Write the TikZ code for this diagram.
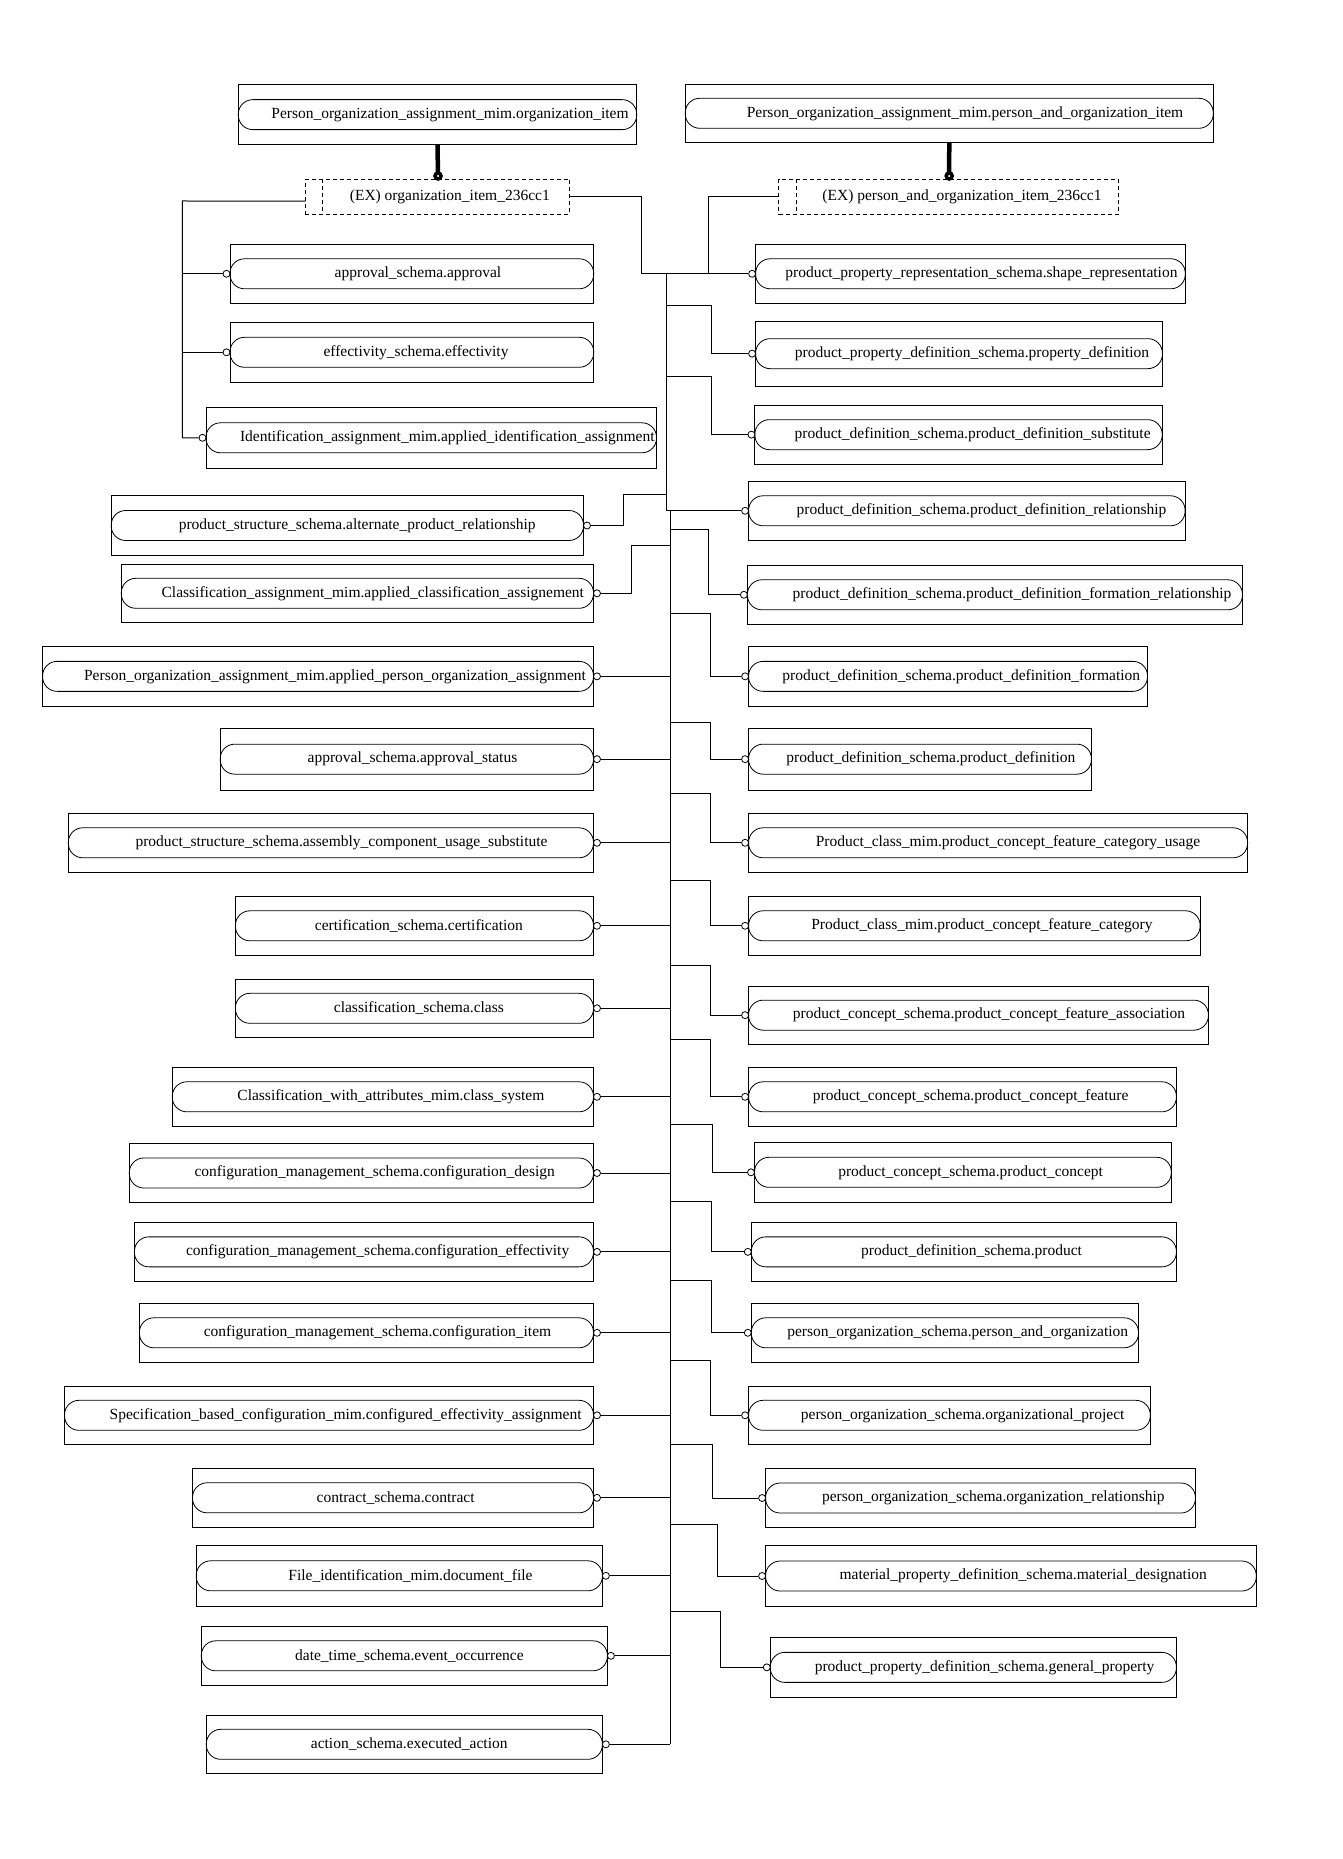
\documentclass[tikz,border=0pt]{standalone}
\usepackage{fontspec}
\setmainfont{Liberation Serif}
\usetikzlibrary{calc}
\tikzset{
  outerbox/.style={draw, rectangle, inner sep=0pt, outer sep=0pt, line width=1pt},
  innerbox/.style={draw, rectangle, rounded corners=14.5pt, minimum height=30pt, inner sep=0pt, outer sep=0pt, line width=0.8pt},
  exbox/.style={draw, rectangle, inner sep=0pt, outer sep=0pt, line width=0.9pt, dash pattern=on 4pt off 3pt},
  exdiv/.style={line width=0.9pt, dash pattern=on 4pt off 3pt},
  lbl/.style={inner sep=0pt, font=\fontsize{15.5}{18}\selectfont},
  oc/.style={draw, circle, minimum size=7pt, inner sep=0pt, fill=white, line width=0.8pt},
  bigdot/.style={draw, circle, minimum size=6pt, inner sep=0pt, fill=white, line width=3.5pt},
  link/.style={line width=1pt},
  thicklink/.style={line width=4.5pt}
}
\newcommand{\ebox}[7]{%
  \node[outerbox, minimum width={(#4-#2)*1pt}, minimum height={(#5-#3)*1pt}] (#1) at ({(#2+#4)/2},{(#3+#5)/2}) {};
  \node[innerbox, minimum width={(#4-#2)*1pt}] (#1-in) at (#1.center) {};
  \node[lbl] (#1-tx) at (#6,{(#3+#5)/2}) {#7};
}
\begin{document}
\begin{tikzpicture}[x=1pt,y=-1pt]
\useasboundingbox (0,0) rectangle (1342,1859);
\fill[white] (0,0) rectangle (1342,1859);

% top select boxes
\ebox{T1}{238.3}{85}{636.7}{144.3}{450}{Person\_organization\_assignment\_mim.organization\_item}
\ebox{T2}{685.2}{84.3}{1213.3}{142.3}{965}{Person\_organization\_assignment\_mim.person\_and\_organization\_item}

% extension (dashed) boxes
\node[exbox, minimum width=264pt, minimum height=35.3pt] (D1) at (437.3,196.65) {};
\draw[exdiv] ([xshift=17pt]D1.north west) -- ([xshift=17pt]D1.south west);
\node[lbl] (D1-tx) at (449.8,196.65) {(EX) organization\_item\_236cc1};
\node[exbox, minimum width=339.5pt, minimum height=35.3pt] (D2) at (948.65,196.65) {};
\draw[exdiv] ([xshift=17.6pt]D2.north west) -- ([xshift=17.6pt]D2.south west);
\node[lbl] (D2-tx) at (962,196.65) {(EX) person\_and\_organization\_item\_236cc1};

\draw[thicklink] (T1.south) -- (438,176);
\draw[thicklink] (T2.south) -- (949.2,176);
\node[bigdot] (T1d) at (438,176) {};
\node[bigdot] (T2d) at (949.2,176) {};

% left column
\ebox{L1}{230}{244.3}{593.7}{303.3}{418}{approval\_schema.approval}
\ebox{L2}{230}{322.3}{593.7}{382.3}{416}{effectivity\_schema.effectivity}
\ebox{L3}{206}{407.3}{656.5}{468.3}{447.3}{Identification\_assignment\_mim.applied\_identification\_assignment}
\ebox{L4}{111.2}{495.7}{583.5}{555.3}{357.2}{product\_structure\_schema.alternate\_product\_relationship}
\ebox{L5}{121.3}{564.3}{593.5}{622.3}{372.8}{Classification\_assignment\_mim.applied\_classification\_assignement}
\ebox{L6}{42.6}{646.7}{593.5}{706}{335}{Person\_organization\_assignment\_mim.applied\_person\_organization\_assignment}
\ebox{L7}{220.2}{728.3}{593.5}{790}{412.5}{approval\_schema.approval\_status}
\ebox{L8}{68.3}{813.3}{593.5}{872.3}{341.5}{product\_structure\_schema.assembly\_component\_usage\_substitute}
\ebox{L9}{235.4}{896.3}{593.5}{955.3}{418.9}{certification\_schema.certification}
\ebox{L10}{235.4}{979.3}{593.5}{1037.3}{418.9}{classification\_schema.class}
\ebox{L11}{172.3}{1067.3}{593.5}{1126.3}{390.9}{Classification\_with\_attributes\_mim.class\_system}
\ebox{L12}{129.3}{1143.7}{593.5}{1202.3}{374.7}{configuration\_management\_schema.configuration\_design}
\ebox{L13}{134.4}{1222.7}{593.5}{1281}{377.6}{configuration\_management\_schema.configuration\_effectivity}
\ebox{L14}{139.4}{1303.3}{593.5}{1362.3}{377.5}{configuration\_management\_schema.configuration\_item}
\ebox{L15}{64.5}{1386.3}{593.5}{1444.3}{345.6}{Specification\_based\_configuration\_mim.configured\_effectivity\_assignment}
\ebox{L16}{192.5}{1468.3}{593.5}{1527.3}{395.6}{contract\_schema.contract}
\ebox{L17}{196.2}{1545.3}{602.4}{1606.3}{410.5}{File\_identification\_mim.document\_file}
\ebox{L18}{201.3}{1626.3}{607.4}{1685.3}{409.4}{date\_time\_schema.event\_occurrence}
\ebox{L19}{206.3}{1715.3}{602.4}{1773.3}{409.2}{action\_schema.executed\_action}

% right column
\ebox{R1}{755.6}{244.3}{1185.3}{303.3}{981.4}{product\_property\_representation\_schema.shape\_representation}
\ebox{R2}{755.6}{321.3}{1162.4}{386}{972}{product\_property\_definition\_schema.property\_definition}
\ebox{R3}{754.9}{405}{1162.2}{464.3}{972.6}{product\_definition\_schema.product\_definition\_substitute}
\ebox{R4}{748.6}{481.3}{1185.1}{540.3}{981.5}{product\_definition\_schema.product\_definition\_relationship}
\ebox{R5}{747.4}{565.3}{1242.4}{624.3}{1012}{product\_definition\_schema.product\_definition\_formation\_relationship}
\ebox{R6}{748.6}{646.7}{1147.5}{706}{961.3}{product\_definition\_schema.product\_definition\_formation}
\ebox{R7}{748.6}{728.3}{1091.4}{790}{930.9}{product\_definition\_schema.product\_definition}
\ebox{R8}{748.6}{813.3}{1247.6}{872.3}{1008}{Product\_class\_mim.product\_concept\_feature\_category\_usage}
\ebox{R9}{748.6}{896.3}{1200.1}{955.3}{981.9}{Product\_class\_mim.product\_concept\_feature\_category}
\ebox{R10}{748.6}{986.3}{1208.4}{1044}{989}{product\_concept\_schema.product\_concept\_feature\_association}
\ebox{R11}{748.6}{1067.3}{1176.4}{1126.3}{970.6}{product\_concept\_schema.product\_concept\_feature}
\ebox{R12}{754.5}{1142.3}{1171.3}{1202.3}{970.6}{product\_concept\_schema.product\_concept}
\ebox{R13}{751.3}{1222.7}{1176.4}{1281}{971.6}{product\_definition\_schema.product}
\ebox{R14}{751.3}{1303.3}{1138.5}{1362.3}{957.7}{person\_organization\_schema.person\_and\_organization}
\ebox{R15}{748.6}{1386.3}{1150.3}{1444.3}{962.7}{person\_organization\_schema.organizational\_project}
\ebox{R16}{765.6}{1468.7}{1195.4}{1527.3}{993.3}{person\_organization\_schema.organization\_relationship}
\ebox{R17}{765.6}{1545.7}{1256.3}{1606.3}{1023.2}{material\_property\_definition\_schema.material\_designation}
\ebox{R18}{770.3}{1637.7}{1176.4}{1697}{984.6}{product\_property\_definition\_schema.general\_property}

% connector circles
\foreach \n in {L1,L2,L3} {\node[oc] (\n-c) at ([xshift=-3.5pt]\n.west) {};}
\foreach \n in {L4,L5,L6,L7,L8,L9,L10,L11,L12,L13,L14,L15,L16,L17,L18,L19} {\node[oc] (\n-c) at ([xshift=3.5pt]\n.east) {};}
\foreach \n in {R1,R2,R3,R4,R5,R6,R7,R8,R9,R10,R11,R12,R13,R14,R15,R16,R17,R18} {\node[oc] (\n-c) at ([xshift=-3.5pt]\n.west) {};}

% trunk coordinates
\coordinate (ut1) at (666,273.8);
\coordinate (ut2) at (666,510.8);
\coordinate (lt1) at (670,510.8);
\coordinate (lbTop) at (182.4,201);
\coordinate (j1a) at (641.7,196.65);
\coordinate (j1b) at (641.7,273.8);
\coordinate (j2a) at (708.1,196.65);
\coordinate (j2b) at (708.1,273.8);
\coordinate (a4) at (623.4,494.3);
\coordinate (a5) at (631,545.7);

% left bracket of organization_item
\draw[link] ([yshift=-4.4pt]D1.west) -- (lbTop) |- (L3-c);
\draw[link] (lbTop |- L1-c) -- (L1-c);
\draw[link] (lbTop |- L2-c) -- (L2-c);

% organization_item right side and person_and_organization_item
\draw[link] (D1.east) -- (j1a) -- (j1b) -- (R1-c);
\draw[link] (D2.west) -- (j2a) -- (j2b);

% trunks
\draw[link] (ut1) -- (ut2) -- (R4-c);
\draw[link] (lt1) -- (lt1 |- L19-c);

% right branches
\foreach \n/\by/\ex/\tx in {R2/305.7/711.6/666, R3/376/711.5/666, R5/529.3/708.2/670, R6/613.3/710.2/670, R7/722.3/710.2/670, R8/793.3/710.2/670, R9/880.7/710.2/670, R10/965.7/710.2/670, R11/1039.3/710.2/670, R12/1124.3/712.6/670, R13/1201.3/711.4/670, R14/1280/711.4/670, R15/1360.3/710.2/670, R16/1444/712.6/670, R17/1524.3/717.7/670, R18/1611/720.5/670}
  {\draw[link] (\tx,\by) -- (\ex,\by) |- (\n-c);}

% left branches
\draw[link] (L4-c) -| (a4) -- (a4 -| ut1);
\draw[link] (L5-c) -| (a5) -- (a5 -| lt1);
\foreach \n in {L6,L7,L8,L9,L10,L11,L12,L13,L14,L15,L16,L17,L18,L19}
  {\draw[link] (\n-c) -- (\n-c -| lt1);}
\end{tikzpicture}
\end{document}
